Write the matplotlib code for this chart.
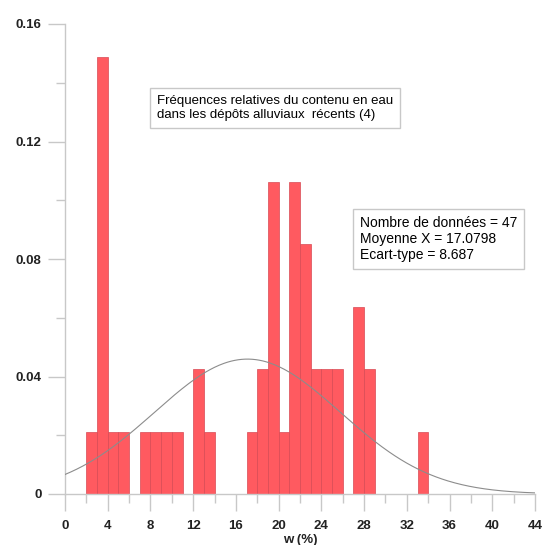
import numpy as np
import matplotlib
matplotlib.use("Agg")
import matplotlib.pyplot as plt

plt.rcParams["font.family"] = ["Liberation Sans", "DejaVu Sans"]

# Histogramme : classes de 1 % de teneur en eau, effectifs par classe
bin_left = [2, 3, 4, 5, 7, 8, 9, 10, 12, 13, 17, 18, 19, 20, 21, 22, 23, 24, 25, 27, 28, 33]
counts = [1, 7, 1, 1, 1, 1, 1, 1, 2, 1, 1, 2, 5, 1, 5, 4, 2, 2, 2, 3, 2, 1]
n_total = 47
mean_w = 17.0798
std_w = 8.687

x_ticks = [0, 4, 8, 12, 16, 20, 24, 28, 32, 36, 40, 44]
y_ticks = [0, 0.04, 0.08, 0.12, 0.16]

freq = np.array(counts) / n_total

fig = plt.figure(figsize=(5.45, 5.45), dpi=100)
ax = fig.add_axes([65 / 545, 51 / 545, 470 / 545, 470 / 545])


def px_to_data(px, py):
    # pixel (origine en haut à gauche) -> coordonnées des données
    return (px - 65) / 470 * 44, (494 - py) / 470 * 0.16


ax.bar(bin_left, freq, width=1.0, align="edge", color="#ff5a60",
       edgecolor="#d84a54", linewidth=0.5, zorder=2)

# courbe normale ajustée (fréquence relative pour une classe de largeur 1)
xs = np.linspace(0, 44, 400)
pdf = np.exp(-0.5 * ((xs - mean_w) / std_w) ** 2) / (std_w * np.sqrt(2 * np.pi))
ax.plot(xs, pdf, color="#8c8c8c", linewidth=0.8, zorder=3)

ax.set_xlim(0, 44)
ax.set_ylim(0, 0.16)

axis_col = "#c8c8c8"
for side in ("top", "right"):
    ax.spines[side].set_visible(False)
for side in ("left", "bottom"):
    ax.spines[side].set_color(axis_col)
    ax.spines[side].set_linewidth(1.0)

ax.set_xticks(x_ticks)
ax.set_xticks(np.arange(2, 44, 4), minor=True)
ax.set_yticks(y_ticks)
ax.set_yticklabels(["0", "0.04", "0.08", "0.12", "0.16"])
ax.set_yticks([0.02, 0.06, 0.10, 0.14], minor=True)

ax.tick_params(which="major", length=12, width=1.0, color=axis_col,
               labelsize=9.5, labelcolor="#222222")
ax.tick_params(which="minor", length=6.5, width=1.0, color=axis_col)
ax.tick_params(axis="y", which="major", pad=5)
ax.tick_params(axis="x", which="major", pad=7)
for lab in ax.get_xticklabels() + ax.get_yticklabels():
    lab.set_fontweight("bold")

ax.set_xlabel("w (%)", fontsize=9.5, fontweight="bold", color="#222222", labelpad=1)

box = dict(boxstyle="square,pad=0.5", facecolor="white", edgecolor="#c8c8c8", linewidth=1.0)
tx, ty = px_to_data(157, 95)
ax.text(tx, ty,
        "Fréquences relatives du contenu en eau\ndans les dépôts alluviaux  récents (4)",
        fontsize=9.5, va="top", ha="left", bbox=box, linespacing=1.25, zorder=4)
tx, ty = px_to_data(360, 216)
ax.text(tx, ty,
        "Nombre de données = %d\nMoyenne X = %.4f\nEcart-type = %.3f" % (n_total, mean_w, std_w),
        fontsize=10, va="top", ha="left", bbox=box, linespacing=1.2, zorder=4)

fig.savefig("out.png", dpi=100)
